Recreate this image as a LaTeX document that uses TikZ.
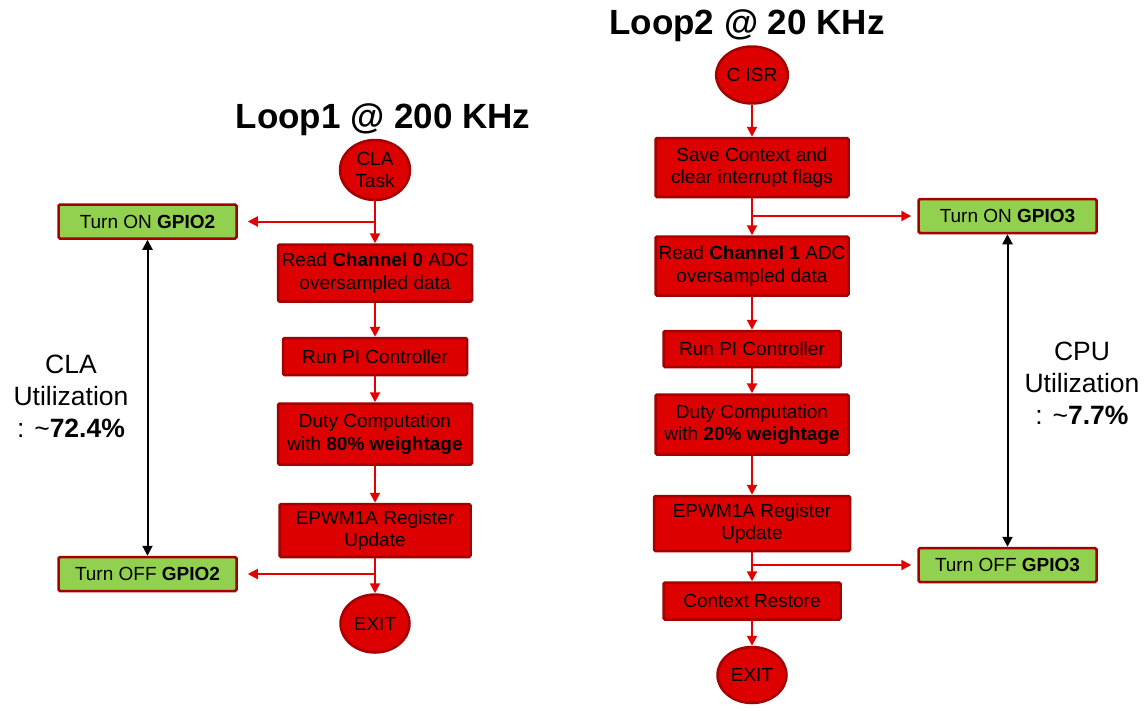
\documentclass[tikz,border=0pt]{standalone}
\usepackage{fontspec}
\setmainfont{Liberation Sans}
\usetikzlibrary{positioning, arrows.meta, shapes.geometric, calc}
\definecolor{boxred}{RGB}{221,0,0}
\definecolor{edgered}{RGB}{163,0,0}
\definecolor{linered}{RGB}{226,0,0}
\definecolor{gpiogreen}{RGB}{146,208,80}
\newcommand{\Bold}[1]{\textbf{#1}}
\tikzset{
    stepbox/.style={rectangle, rounded corners=1.5pt, draw=edgered, fill=boxred,
      line width=2.5pt, align=center, inner sep=0pt, font=\fontsize{19}{22.5}\selectfont},
    endpoint/.style={ellipse, draw=edgered, fill=boxred, line width=2.5pt,
      align=center, inner sep=0pt, font=\fontsize{19}{22.5}\selectfont},
    gpiobox/.style={rectangle, rounded corners=1.5pt, draw=edgered, fill=gpiogreen,
      line width=2.5pt, minimum width=178pt, minimum height=34pt, inner sep=0pt,
      font=\fontsize{19}{22.5}\selectfont},
    flow/.style={draw=linered, line width=2pt, -{Triangle[width=10pt,length=10pt]}},
    span/.style={draw=black, line width=2pt,
      {Triangle[width=10pt,length=10pt]}-{Triangle[width=10pt,length=10pt]}},
    title/.style={font=\fontsize{35}{40}\selectfont\bfseries},
    usage/.style={align=center, font=\fontsize{26.5}{32}\selectfont},
}

\begin{document}
\begin{tikzpicture}[x=1pt, y=1pt]
    \useasboundingbox (0,0) rectangle (1146,-710);

    % Loop1 (CLA)
    \node[title] (title0) at (383,-120) {Loop1 @ 200 KHz};
    \node[endpoint, minimum width=70pt, minimum height=60pt] (cla) at (375,-170) {CLA\\Task};
    \node[stepbox, minimum width=194pt, minimum height=57pt, below=42pt of cla] (read0)
      {Read \Bold{Channel 0} ADC\\oversampled data};
    \node[stepbox, minimum width=184pt, minimum height=37pt, below=34pt of read0] (pi0)
      {Run PI Controller};
    \node[stepbox, minimum width=194pt, minimum height=61pt, below=26pt of pi0] (duty0)
      {Duty Computation\\with \Bold{80\% weightage}};
    \node[stepbox, minimum width=191pt, minimum height=53pt, below=37pt of duty0] (epwm0)
      {EPWM1A Register\\Update};
    \node[endpoint, minimum width=69pt, minimum height=58pt, below=35pt of epwm0] (exit0) {EXIT};

    \node[gpiobox] (gpio2on) at (147.5,-221.5) {Turn ON \Bold{GPIO2}};
    \node[gpiobox] (gpio2off) at (147.5,-574) {Turn OFF \Bold{GPIO2}};
    \node[usage] (usage0) at (71,-396) {CLA\\Utilization\\: \textasciitilde\Bold{72.4\%}};

    \coordinate (tap2on) at (cla.south |- gpio2on.east);
    \coordinate (tap2off) at (epwm0.south |- gpio2off.east);

    \draw[flow] (cla) -- (read0);
    \draw[flow] (read0) -- (pi0);
    \draw[flow] (pi0) -- (duty0);
    \draw[flow] (duty0) -- (epwm0);
    \draw[flow] (epwm0) -- (exit0);
    \draw[flow, shorten >=10pt] (tap2on) -- (gpio2on);
    \draw[flow, shorten >=10pt] (tap2off) -- (gpio2off);
    \draw[span] (gpio2on) -- (gpio2off);

    % Loop2 (CPU)
    \node[title] (title1) at (747,-26) {Loop2 @ 20 KHz};
    \node[endpoint, minimum width=71pt, minimum height=57pt] (isr) at (752,-75) {C ISR};
    \node[stepbox, minimum width=193pt, minimum height=59pt, below=32pt of isr] (save)
      {Save Context and\\clear interrupt flags};
    \node[stepbox, minimum width=193pt, minimum height=59pt, below=37pt of save] (read1)
      {Read \Bold{Channel 1} ADC\\oversampled data};
    \node[stepbox, minimum width=177pt, minimum height=36pt, below=33pt of read1] (pi1)
      {Run PI Controller};
    \node[stepbox, minimum width=193pt, minimum height=60pt, below=25pt of pi1] (duty1)
      {Duty Computation\\with \Bold{20\% weightage}};
    \node[stepbox, minimum width=196pt, minimum height=55pt, below=39pt of duty1] (epwm1)
      {EPWM1A Register\\Update};
    \node[stepbox, minimum width=177pt, minimum height=37pt, below=29pt of epwm1] (restore)
      {Context Restore};
    \node[endpoint, minimum width=69pt, minimum height=56pt, below=25pt of restore] (exit1) {EXIT};

    \node[gpiobox] (gpio3on) at (1007.5,-216) {Turn ON \Bold{GPIO3}};
    \node[gpiobox] (gpio3off) at (1007.5,-565) {Turn OFF \Bold{GPIO3}};
    \node[usage] (usage1) at (1082,-383) {CPU\\Utilization\\: \textasciitilde\Bold{7.7\%}};

    \coordinate (tap3on) at (save.south |- gpio3on.west);
    \coordinate (tap3off) at (epwm1.south |- gpio3off.west);

    \draw[flow] (isr) -- (save);
    \draw[flow] (save) -- (read1);
    \draw[flow] (read1) -- (pi1);
    \draw[flow] (pi1) -- (duty1);
    \draw[flow] (duty1) -- (epwm1);
    \draw[flow] (epwm1) -- (restore);
    \draw[flow] (restore) -- (exit1);
    \draw[flow, shorten >=6pt] (tap3on) -- (gpio3on);
    \draw[flow, shorten >=6pt] (tap3off) -- (gpio3off);
    \draw[span] (gpio3on) -- (gpio3off);
\end{tikzpicture}
\end{document}
